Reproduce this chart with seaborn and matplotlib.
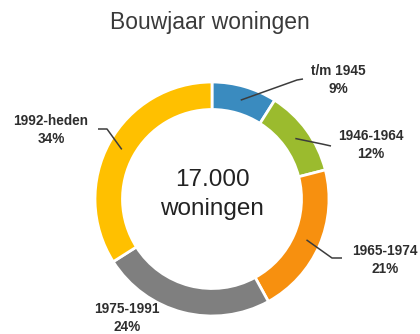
import numpy as np
import matplotlib
matplotlib.use("Agg")
import matplotlib.pyplot as plt
import seaborn as sns

# Housing stock by construction period
periods = ["t/m 1945", "1946-1964", "1965-1974", "1975-1991", "1992-heden"]
shares = [9, 12, 21, 24, 34]
colors = ["#3a8bbf", "#9bbb2e", "#f7900f", "#7f7f7f", "#ffc000"]
title = "Bouwjaar woningen"

sns.set_theme(style="white")
plt.rcParams["font.family"] = ["Liberation Sans", "DejaVu Sans"]

W, H, DPI = 420, 334, 100
R_PX = 117.0          # outer radius in pixels
CX, CY = 212.0, 199.0  # ring centre, pixels from top-left

fig = plt.figure(figsize=(W / DPI, H / DPI), dpi=DPI)
fig.patch.set_facecolor("white")
ax = fig.add_axes([0, 0, 1, 1])


def px(x, y):
    """Pixel position (from top-left) to data units (radius 1 = R_PX)."""
    return ((x - CX) / R_PX, (CY - y) / R_PX)


wedges, _ = ax.pie(
    shares,
    colors=colors,
    startangle=90,
    counterclock=False,
    radius=1.0,
    wedgeprops=dict(width=0.235, edgecolor="white", linewidth=2.0),
)

ax.set_xlim((0 - CX) / R_PX, (W - CX) / R_PX)
ax.set_ylim((CY - H) / R_PX, CY / R_PX)
ax.set_aspect("equal", adjustable="datalim")
ax.axis("off")

# Centre text
ax.text(0, px(0, 180)[1], "17.000", ha="center", va="center",
        fontsize=17.5, color="#222222")
ax.text(0, px(0, 209)[1], "woningen", ha="center", va="center",
        fontsize=17.5, color="#222222")

fig.text(0.5, 1 - 22 / H, title, ha="center", va="center",
         fontsize=16.5, color="#3a3a3a")

# Leader lines: (elbow, end) in pixels, None = no line; label centre in pixels
layout = {
    "t/m 1945": (((297, 80), (303, 79)), (338, 80)),
    "1946-1964": (((322, 144), (331, 146)), (371, 145)),
    "1965-1974": (((332, 258), (342, 258)), (385, 260)),
    "1975-1991": (None, (127, 318)),
    "1992-heden": (((107, 129), (98, 129)), (51, 130)),
}

label_color = "#2e2e2e"
for wedge, period, share in zip(wedges, periods, shares):
    mid = np.deg2rad((wedge.theta1 + wedge.theta2) / 2)
    anchor = (0.88 * np.cos(mid), 0.88 * np.sin(mid))
    line, centre = layout[period]
    if line is not None:
        pts = [anchor, px(*line[0]), px(*line[1])]
        xs, ys = zip(*pts)
        ax.plot(xs, ys, color="#3c3c3c", lw=1.1, solid_capstyle="butt",
                clip_on=False)
    tx, ty = px(*centre)
    ax.text(tx, ty, f"{period}\n{share}%", ha="center", va="center",
            fontsize=9.8, fontweight="bold", color=label_color,
            linespacing=1.3, clip_on=False)

fig.savefig("out.png", dpi=DPI, facecolor="white")
